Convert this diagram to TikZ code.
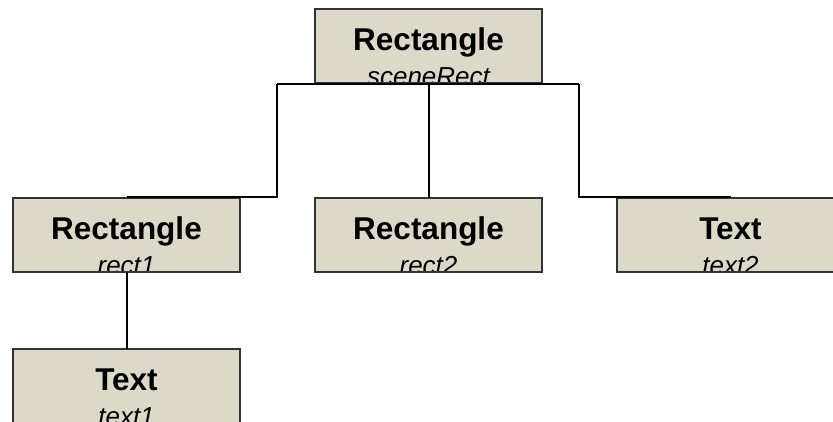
\documentclass[tikz,border=0pt]{standalone}
\usepackage{fontspec}
\setmainfont{Liberation Sans}
\definecolor{boxfill}{HTML}{DDD9C8}
\definecolor{boxline}{HTML}{333333}
\newcommand\treebox[4]{%
  \node[box, path picture={
      \node[titletext] (#1-title) at ([yshift=-41bp]path picture bounding box.north) {#3};
      \node[subtext] (#1-sub) at ([yshift=-76bp]path picture bounding box.north) {#4};
    }] (#1) at (#2) {};
}
\begin{document}
\begin{tikzpicture}[x=1bp,y=-1bp,
  box/.style={draw=boxline, line width=1.6bp, fill=boxfill, minimum width=227bp, minimum height=74bp, inner sep=0pt, rectangle},
  titletext/.style={anchor=base, inner sep=0pt, font=\fontsize{31.5bp}{31.5bp}\selectfont\bfseries},
  subtext/.style={anchor=base, inner sep=0pt, font=\fontsize{26bp}{26bp}\selectfont\itshape},
  conn/.style={draw=black, line width=2bp}]
\useasboundingbox (0,0) rectangle (833,421);
\begin{scope}
\clip (0,0) rectangle (833,421);
\treebox{scene}{428.5,46}{Rectangle}{sceneRect}
\treebox{rect1}{126.5,235}{Rectangle}{rect1}
\treebox{rect2}{428.5,235}{Rectangle}{rect2}
\treebox{text2}{730.5,235}{Text}{text2}
\treebox{text1}{126.5,386}{Text}{text1}
\coordinate (jl) at (277,84);
\coordinate (jr) at (579,84);
\coordinate (bl) at (277,197);
\coordinate (br) at (579,197);
\coordinate (mt) at (429,84);
\coordinate (mb) at (429,198);
\coordinate (lt) at (127,272);
\coordinate (lb) at (127,349);
\draw[conn] (jl) -- (jr);
\draw[conn] (mt) -- (mb);
\draw[conn] (jl) -- (bl) -- (bl -| rect1.north);
\draw[conn] (jr) -- (br) -- (br -| text2.north);
\draw[conn] (lt) -- (lb);
\end{scope}
\end{tikzpicture}
\end{document}
